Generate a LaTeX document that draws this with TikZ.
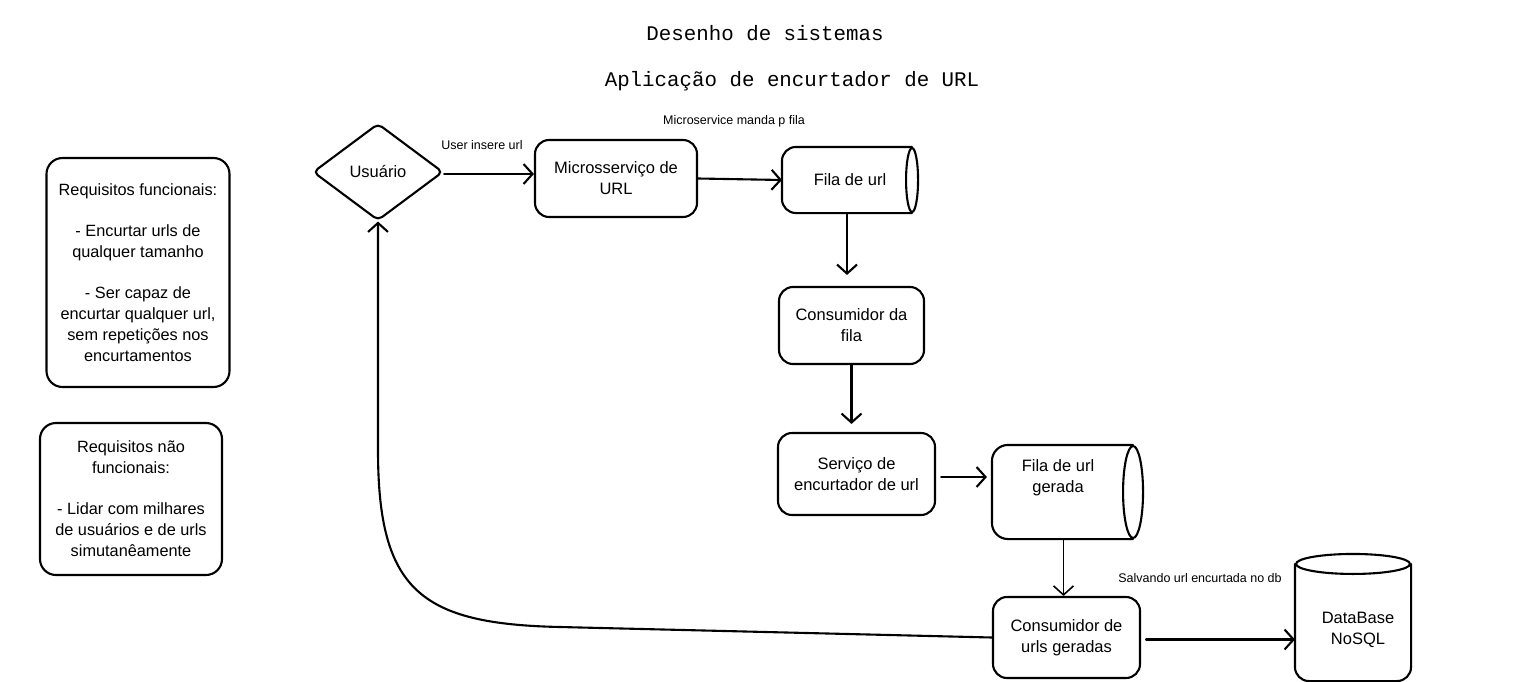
\documentclass[tikz,border=0pt]{standalone}
\usepackage{fontspec}
\setmainfont{Liberation Sans}
\newfontfamily\titlefont{Liberation Mono}
\usetikzlibrary{shapes.geometric,arrows.meta}
\begin{document}
\begin{tikzpicture}[x=1pt,y=-1pt,line width=2.1pt,line join=round,line cap=round,
  box/.style={draw,rounded corners=14pt,align=center,inner sep=0pt,font=\fontsize{16.5}{21}\selectfont},
  ghost/.style={draw=none,align=center,inner sep=0pt,font=\fontsize{16.5}{21}\selectfont},
  reqbox/.style={draw,rounded corners=16pt,align=center,inner sep=0pt,font=\fontsize{16.3}{21}\selectfont},
  titletext/.style={font=\titlefont\fontsize{20.8}{24}\selectfont},
  lbl/.style={font=\fontsize{12.5}{14}\selectfont},
  arr/.style={-{Straight Barb[length=9pt,width=20pt]}}]
\useasboundingbox[fill=white] (0,0) rectangle (1514,682);

% titles
\node[titletext] (t1) at (765,33) {Desenho de sistemas};
\node[titletext] (t2) at (792,81) {Aplicação de encurtador de URL};

% requirement boxes
\node[reqbox,minimum width=183pt,minimum height=229pt] (rf) at (138,272.5)
 {Requisitos funcionais:\\[20pt]- Encurtar urls de\\qualquer tamanho\\[20pt]- Ser capaz de\\encurtar qualquer url,\\sem repetições nos\\encurtamentos};
\node[reqbox,minimum width=182pt,minimum height=152pt] (rnf) at (131,499)
 {Requisitos não\\funcionais:\\[20pt]- Lidar com milhares\\de usuários e de urls\\simutanêamente};

% flow nodes
\node[draw,diamond,rounded corners=5pt,minimum width=130pt,minimum height=97pt,inner sep=0pt,
  font=\fontsize{16.5}{21}\selectfont] (usr) at (378,172) {Usuário};
\node[box,minimum width=162pt,minimum height=77pt] (ms) at (616,178.5) {Microsserviço de\\URL};
\node[ghost,minimum width=134pt,minimum height=64pt] (fila) at (850,180) {Fila de url};
\node[box,minimum width=145pt,minimum height=77pt] (cf) at (851.5,325.5) {Consumidor da\\fila};
\node[box,minimum width=157pt,minimum height=82pt] (serv) at (856.5,474) {Serviço de\\encurtador de url};
\node[ghost,minimum width=149pt,minimum height=92pt] (fila2) at (1067.5,492) {};
\node[ghost] (fila2t) at (1058,478) {Fila de url\\gerada};
\node[box,minimum width=147pt,minimum height=81pt] (ccg) at (1066.5,637.5) {Consumidor de\\urls geradas};
\node[ghost,minimum width=114pt,minimum height=105pt] (db) at (1353,627.5) {};
\node[ghost] (dbt) at (1358,630) {DataBase\\NoSQL};

% horizontal cylinder: Fila de url
\draw[rounded corners=14pt] ([xshift=-6pt]fila.north east) -- (fila.north west) -- (fila.south west) -- ([xshift=-6pt]fila.south east);
\draw ([xshift=-6pt]fila.east) ellipse [x radius=6pt,y radius=32pt];
% horizontal cylinder: Fila de url gerada
\draw[rounded corners=16pt] ([xshift=-10pt]fila2.north east) -- (fila2.north west) -- (fila2.south west) -- ([xshift=-10pt]fila2.south east);
\draw ([xshift=-10pt]fila2.east) ellipse [x radius=10pt,y radius=46pt];
% vertical cylinder: DataBase
\draw[rounded corners=14pt] ([yshift=10pt]db.north west) -- (db.south west) -- (db.south east) -- ([yshift=10pt]db.north east);
\draw ([yshift=10pt]db.north) ellipse [x radius=57pt,y radius=10pt];

% labels
\node[lbl] (l1) at (482,145) {User insere url};
\node[lbl] (l2) at (734,121) {Microservice manda p fila};
\node[lbl] (l3) at (1200,578) {Salvando url encurtada no db};

% connectors
\draw[arr] ([yshift=-2pt]usr.east) -- ([yshift=-2pt]usr.east -| ms.west);
\draw[arr] (ms.east) -- (fila.west);
\draw[arr,shorten >=11pt] ([xshift=-3pt]fila.south) -- ([xshift=-3pt]fila.south |- cf.north);
\draw[arr,shorten >=8pt] (cf.south) -- (cf.south |- serv.north);
\draw[arr,shorten <=5pt,shorten >=5pt] ([yshift=-3pt]serv.east) -- ([yshift=-3pt]serv.east -| fila2.west);
\draw[arr,line width=1.6pt] ([xshift=-4pt]fila2.south) -- ([xshift=-4pt]fila2.south |- ccg.north);
\draw[arr,shorten <=5pt] ([yshift=-2pt]ccg.east) -- ([yshift=-2pt]ccg.east -| db.west);
\coordinate (c1) at (560,627);
\coordinate (c2) at (378,450);
\draw[arr] (ccg.west) -- (c1) .. controls (420,624) and (378,590) .. (c2) -- (usr.south);
\end{tikzpicture}
\end{document}
